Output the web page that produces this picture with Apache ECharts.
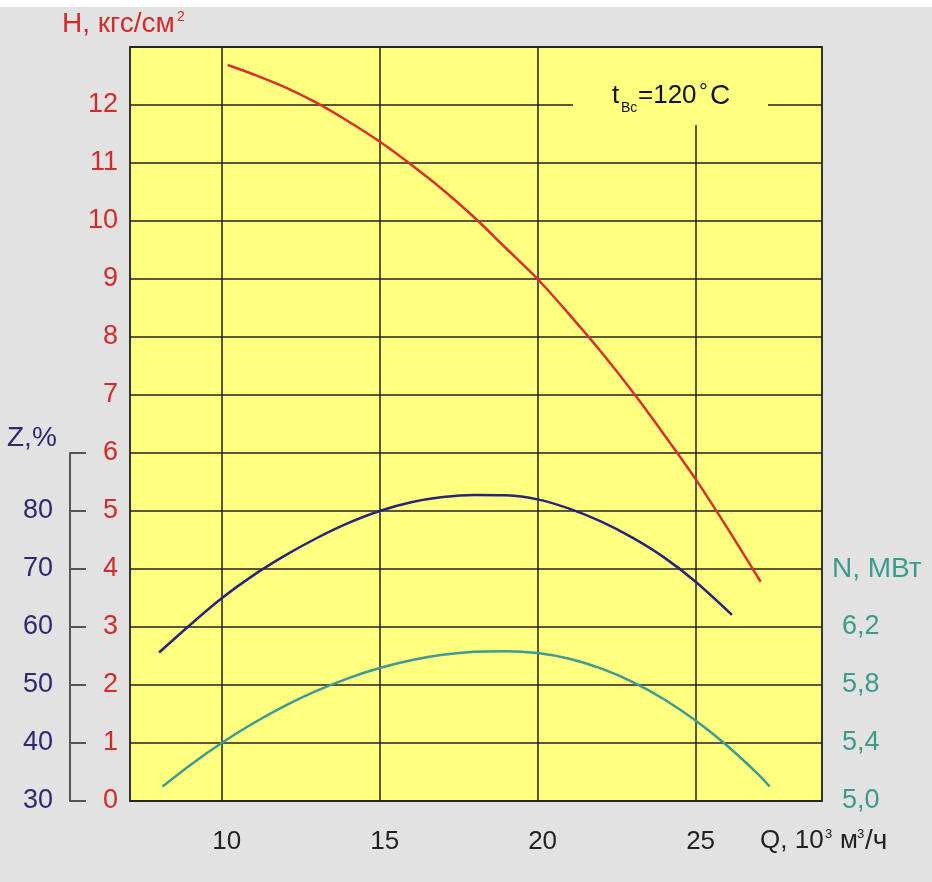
<!DOCTYPE html>
<html><head><meta charset="utf-8">
<script src="https://cdn.jsdelivr.net/npm/echarts@6/dist/echarts.min.js"></script>
<style>html,body{margin:0;padding:0;background:#e2e2e2;}#c{width:932px;height:882px;}</style>
</head><body><div id="c"></div>
<script>
// Q, 10^3 m3/h ticks
const qTicks = [10, 15, 20, 25];
// H, kgf/cm2
const qH = [10.19, 11, 12, 13, 14, 15, 16, 17, 18, 19, 20, 21, 22, 23, 24, 25, 26, 27.06];
const vH = [12.69, 12.53, 12.31, 12.04, 11.72, 11.37, 10.97, 10.54, 10.06, 9.53, 9.0, 8.39, 7.75, 7.06, 6.32, 5.55, 4.71, 3.78];
// Z, %
const qZ = [8.02, 9, 10, 11, 12, 13, 14, 15, 16, 17, 18, 19, 20, 21, 22, 23, 24, 25, 26.15];
const vZ = [55.6, 60.35, 64.95, 68.9, 72.3, 75.3, 77.9, 80.0, 81.5, 82.4, 82.76, 82.7, 82.0, 80.4, 78.2, 75.4, 72.0, 67.8, 62.1];
// N, MW
const qN = [8.13, 9, 10, 11, 12, 13, 14, 15, 16, 17, 18, 19, 20, 21, 22, 23, 24, 25, 26, 27, 27.34];
const vN = [5.10, 5.247, 5.40, 5.536, 5.656, 5.759, 5.846, 5.917, 5.971, 6.008, 6.029, 6.033, 6.02, 5.981, 5.915, 5.822, 5.702, 5.555, 5.381, 5.18, 5.10];

const FONT = 'Liberation Sans';
const RED = '#d42a2a', NAVY = '#2b2a72', TEAL = '#3c9a8c';
const pairs = (a, b) => a.map((x, i) => [x, b[i]]);

const chart = echarts.init(document.getElementById('c'));
const xBase = { type: 'value', min: 7.1, max: 29.0 };
const T = (x, y, text, size, fill) => ({ type: 'text', x, y, z: 101,
  style: { text, font: size + 'px "Liberation Sans"', fill, verticalAlign: 'middle' } });
chart.setOption({
  backgroundColor: '#e2e2e2',
  animation: false,
  grid: [
    { left: 130, right: 110, top: 47, bottom: 81, show: true, backgroundColor: '#ffff80', borderColor: '#333', borderWidth: 2 },
    { left: 130, right: 110, top: 453, bottom: 81 },
    { left: 130, right: 110, top: 627, bottom: 81 }
  ],
  xAxis: [
    Object.assign({}, xBase, {
      gridIndex: 0,
      axisLine: { show: false },
      axisTick: { show: false, customValues: qTicks },
      axisLabel: { customValues: qTicks, fontSize: 26, fontFamily: FONT, color: '#222', margin: 28, padding: [0, 0, 0, 10] },
      splitLine: { show: true, lineStyle: { color: '#222', width: 1.5 } }
    }),
    Object.assign({}, xBase, { gridIndex: 1, show: false }),
    Object.assign({}, xBase, { gridIndex: 2, show: false })
  ],
  yAxis: [
    { type: 'value', gridIndex: 0, min: 0, max: 13, interval: 1,
      axisLine: { show: false }, axisTick: { show: false },
      axisLabel: { fontSize: 27, fontFamily: FONT, color: RED, margin: 12,
        formatter: v => (v === 13 ? '' : String(v)) },
      splitLine: { show: true, lineStyle: { color: '#222', width: 1.5 } } },
    { type: 'value', gridIndex: 1, min: 30, max: 90, interval: 10, position: 'left', offset: 60,
      axisLine: { show: true, lineStyle: { color: '#555', width: 2 } },
      axisTick: { show: true, inside: true, length: 16, lineStyle: { color: '#555', width: 2 } },
      axisLabel: { fontSize: 27, fontFamily: FONT, color: NAVY, margin: 17,
        formatter: v => (v === 90 ? '' : String(v)) },
      splitLine: { show: false } },
    { type: 'value', gridIndex: 2, min: 5.0, max: 6.2, interval: 0.4, position: 'right',
      axisLine: { show: false }, axisTick: { show: false },
      axisLabel: { fontSize: 27, fontFamily: FONT, color: TEAL, margin: 20,
        formatter: v => v.toFixed(1).replace('.', ',') },
      splitLine: { show: false } }
  ],
  series: [
    { type: 'line', xAxisIndex: 0, yAxisIndex: 0, data: pairs(qH, vH), smooth: 0.3, showSymbol: false,
      lineStyle: { color: '#d8302a', width: 2.5 } },
    { type: 'line', xAxisIndex: 1, yAxisIndex: 1, data: pairs(qZ, vZ), smooth: 0.3, showSymbol: false,
      lineStyle: { color: '#2a2478', width: 2.5 } },
    { type: 'line', xAxisIndex: 2, yAxisIndex: 2, data: pairs(qN, vN), smooth: 0.3, showSymbol: false,
      lineStyle: { color: '#3e9a92', width: 2.5 } }
  ],
  graphic: [
    { type: 'rect', shape: { x: 0, y: 0, width: 932, height: 7 }, style: { fill: '#ffffff' }, z: 100 },
    { type: 'rect', shape: { x: 573, y: 48, width: 195, height: 77 }, style: { fill: '#ffff80' }, z: 100 },
    T(612, 96, 't', 26, '#111'),
    T(621, 108, 'Вс', 14, '#111'),
    T(638, 96, '=120', 26, '#111'),
    T(699, 93, '°', 22, '#111'),
    T(710, 96, 'C', 28, '#111'),
    T(62, 24, 'Н, кгс/см', 28, RED),
    T(177, 17, '2', 14, RED),
    T(7, 438, 'Z,%', 28, NAVY),
    T(832, 569, 'N, МВт', 28, TEAL),
    T(760, 841, 'Q, 10', 26, '#222'),
    T(825, 834, '3', 13, '#222'),
    T(840, 841, 'м', 26, '#222'),
    T(857, 834, '3', 13, '#222'),
    T(865, 841, '/ч', 28, '#222')
  ]
});
</script></body></html>
